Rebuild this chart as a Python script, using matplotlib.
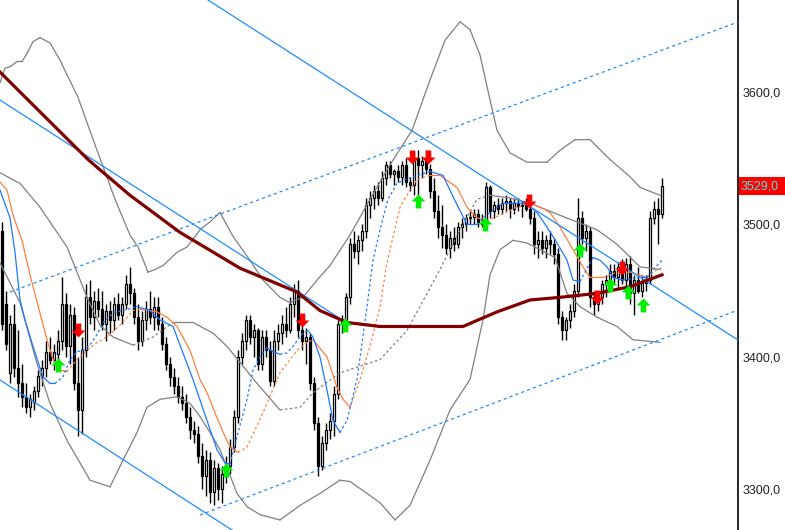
import matplotlib
matplotlib.use("Agg")
import matplotlib.pyplot as plt
from matplotlib.path import Path
from matplotlib.patches import Rectangle

# --- candles (bar index 0..165), prices ---
opens = [3495, 3440, 3388, 3425, 3392, 3380, 3370, 3362, 3366, 3374, 3386, 3392, 3404, 3398, 3402, 3412,
         3440, 3408, 3432, 3380, 3360, 3405, 3445, 3430, 3442, 3436, 3425, 3435, 3428, 3440, 3432, 3440,
         3455, 3448, 3430, 3412, 3428, 3436, 3430, 3438, 3425, 3410, 3395, 3385, 3378, 3370, 3365, 3355,
         3345, 3342, 3325, 3310, 3322, 3298, 3316, 3300, 3312, 3318, 3332, 3355, 3400, 3412, 3428, 3415,
         3420, 3395, 3415, 3405, 3382, 3412, 3418, 3425, 3420, 3440, 3450, 3420, 3412, 3415, 3380, 3350,
         3318, 3335, 3345, 3352, 3372, 3425, 3428, 3445, 3485, 3480, 3488, 3495, 3515, 3520, 3525, 3520,
         3535, 3545, 3538, 3540, 3536, 3545, 3532, 3530, 3550, 3545, 3548, 3542, 3525, 3510, 3498, 3492,
         3482, 3490, 3485, 3498, 3500, 3505, 3506, 3508, 3502, 3500, 3528, 3510, 3515, 3512, 3516, 3518,
         3512, 3516, 3514, 3515, 3512, 3505, 3485, 3488, 3482, 3488, 3485, 3478, 3430, 3420, 3428, 3435,
         3450, 3505, 3490, 3495, 3445, 3440, 3445, 3455, 3458, 3465, 3460, 3468, 3458, 3470, 3448, 3458,
         3450, 3456, 3458, 3505, 3512, 3508]
highs = [3502, 3450, 3432, 3440, 3420, 3395, 3380, 3372, 3378, 3390, 3398, 3412, 3415, 3410, 3420, 3460,
         3448, 3440, 3438, 3400, 3415, 3455, 3458, 3450, 3452, 3450, 3440, 3442, 3445, 3448, 3445, 3462,
         3468, 3452, 3440, 3435, 3442, 3450, 3445, 3445, 3430, 3415, 3400, 3392, 3385, 3378, 3372, 3362,
         3352, 3348, 3335, 3330, 3328, 3322, 3320, 3318, 3325, 3338, 3360, 3405, 3418, 3432, 3432, 3425,
         3422, 3420, 3420, 3412, 3420, 3425, 3432, 3438, 3445, 3455, 3458, 3430, 3422, 3418, 3385, 3355,
         3340, 3350, 3358, 3378, 3428, 3432, 3448, 3490, 3495, 3492, 3500, 3520, 3525, 3530, 3532, 3540,
         3548, 3548, 3542, 3545, 3548, 3550, 3536, 3555, 3556, 3552, 3556, 3546, 3535, 3522, 3515, 3500,
         3495, 3498, 3502, 3505, 3508, 3510, 3512, 3512, 3508, 3532, 3530, 3518, 3520, 3520, 3522, 3520,
         3520, 3520, 3518, 3520, 3515, 3510, 3495, 3495, 3492, 3495, 3490, 3482, 3435, 3430, 3440, 3455,
         3520, 3510, 3500, 3498, 3450, 3448, 3458, 3462, 3470, 3470, 3472, 3474, 3475, 3476, 3462, 3468,
         3462, 3462, 3510, 3518, 3520, 3535]
lows = [3420, 3405, 3380, 3385, 3370, 3362, 3358, 3355, 3360, 3370, 3378, 3385, 3395, 3390, 3398, 3405,
        3400, 3395, 3375, 3340, 3342, 3400, 3425, 3420, 3430, 3420, 3412, 3418, 3420, 3428, 3425, 3436,
        3440, 3425, 3405, 3408, 3420, 3425, 3420, 3420, 3405, 3390, 3378, 3372, 3365, 3360, 3350, 3338,
        3335, 3320, 3300, 3295, 3290, 3288, 3292, 3290, 3305, 3312, 3328, 3350, 3395, 3405, 3410, 3400,
        3390, 3390, 3400, 3378, 3378, 3405, 3410, 3415, 3418, 3430, 3415, 3405, 3395, 3375, 3345, 3310,
        3315, 3330, 3338, 3340, 3368, 3418, 3420, 3440, 3475, 3470, 3480, 3490, 3505, 3512, 3515, 3518,
        3530, 3535, 3530, 3532, 3530, 3528, 3525, 3522, 3520, 3535, 3538, 3520, 3505, 3490, 3482, 3478,
        3475, 3480, 3482, 3490, 3495, 3500, 3500, 3498, 3498, 3498, 3505, 3505, 3508, 3508, 3510, 3505,
        3508, 3510, 3506, 3510, 3500, 3478, 3475, 3478, 3475, 3478, 3470, 3425, 3413, 3413, 3422, 3430,
        3445, 3485, 3480, 3438, 3432, 3435, 3440, 3445, 3450, 3455, 3452, 3455, 3445, 3440, 3432, 3448,
        3445, 3450, 3455, 3500, 3485, 3505]
closes = [3425, 3410, 3425, 3392, 3380, 3370, 3362, 3368, 3374, 3386, 3392, 3404, 3398, 3404, 3412, 3440,
          3408, 3432, 3380, 3360, 3405, 3445, 3430, 3442, 3436, 3425, 3435, 3428, 3440, 3432, 3440, 3455,
          3448, 3430, 3412, 3428, 3436, 3430, 3438, 3425, 3410, 3395, 3385, 3378, 3370, 3365, 3355, 3345,
          3342, 3325, 3310, 3322, 3298, 3316, 3300, 3312, 3318, 3332, 3355, 3400, 3412, 3428, 3415, 3420,
          3395, 3415, 3405, 3382, 3412, 3418, 3425, 3420, 3440, 3450, 3420, 3412, 3415, 3380, 3350, 3318,
          3335, 3345, 3352, 3372, 3425, 3428, 3445, 3485, 3480, 3488, 3495, 3515, 3520, 3525, 3520, 3535,
          3545, 3538, 3540, 3536, 3545, 3532, 3530, 3550, 3545, 3548, 3542, 3525, 3510, 3498, 3492, 3482,
          3490, 3485, 3498, 3500, 3505, 3506, 3508, 3502, 3500, 3528, 3510, 3515, 3512, 3516, 3518, 3512,
          3516, 3514, 3515, 3512, 3505, 3485, 3488, 3482, 3488, 3485, 3478, 3430, 3420, 3428, 3435, 3450,
          3505, 3490, 3495, 3445, 3440, 3445, 3455, 3458, 3465, 3460, 3468, 3458, 3470, 3448, 3458, 3450,
          3456, 3458, 3505, 3512, 3508, 3529]

# --- indicator lines (bar index, price) ---
slow_x = [-0.5, 10.5, 21.5, 32, 44.5, 59.5, 73.75, 79.5, 86.25, 94.5, 104.5, 115.25, 123.75, 132, 139.5,
          148.75, 157, 165]
slow_y = [3615, 3582, 3549, 3522, 3494, 3467, 3449, 3435, 3426, 3423, 3423, 3423, 3434, 3443, 3445,
          3448, 3453, 3462]

fast_x = [-0.5, 2, 3.25, 4.5, 5.75, 7.75, 10.25, 12, 13.25, 15.25, 17, 18.75, 20.25, 22, 23.75, 25.75,
          28.25, 30.25, 33.75, 37, 39.5, 42.75, 45.25, 47.75, 51.25, 53.75, 55.75, 57, 58.75, 61.25,
          62.75, 64.5, 66.25, 67.75, 69.5, 71.25, 72.75, 75.25, 76.5, 77.75, 79.5, 81.25, 82.75, 84.5,
          86.25, 88.75, 91.25, 92.75, 94.5, 96.5, 98.75, 100.75, 107, 110.25, 112.75, 115.25, 116.25,
          118.75, 120.25, 122.75, 125.25, 129.5, 131.5, 133.75, 136.25, 138.75, 141.25, 142.75, 144.5,
          146.25, 147.75, 149.5, 151.25, 152.75, 155.25, 158.75, 161.25, 162.75, 165]
fast_y = [3526, 3505, 3479, 3443, 3428, 3408, 3385, 3380, 3380, 3385, 3398, 3404, 3405, 3409, 3417, 3428,
          3434, 3435, 3438, 3435, 3428, 3423, 3403, 3383, 3352, 3330, 3320, 3319, 3340, 3368,
          3390, 3400, 3407, 3404, 3402, 3403, 3408, 3418, 3420, 3415, 3400, 3375, 3352, 3343,
          3352, 3383, 3438, 3473, 3496, 3519, 3531, 3534, 3540, 3537, 3521, 3506, 3500,
          3500, 3505, 3511, 3516, 3516, 3515, 3509, 3498, 3486, 3473, 3458, 3457,
          3467, 3475, 3473, 3468, 3460, 3458, 3460, 3460, 3466, 3473]

mid_x = [-0.5, 1.25, 2.75, 5, 7, 9.5, 11.25, 12.75, 14.5, 16.25, 18.75, 21.25, 23.75, 26.25, 29.5, 32.75,
         34.5, 37, 38.75, 41.25, 43.75, 47, 49.5, 51.25, 53.75, 55.75, 57, 59, 61.25, 65.25, 69.5, 73.75,
         76.25, 77.75, 81.25, 83.75, 85.25, 87, 89.5, 92, 94.5, 96.25, 99.5, 102, 103.75, 107, 109.5,
         113.75, 116.25, 118.75, 121.25, 123.75, 128.75, 132, 135.25, 137, 139.5, 142.75, 145.25, 147,
         150.25, 152.75, 157, 161.25, 163.75, 165]
mid_y = [3532, 3526, 3507, 3488, 3462, 3433, 3413, 3398, 3390, 3389, 3398, 3405, 3411, 3415, 3424, 3435,
         3436, 3435, 3434, 3430, 3423, 3405, 3383, 3373, 3354, 3340, 3332, 3328, 3332, 3358, 3388, 3405,
         3411, 3413, 3400, 3377, 3368, 3362, 3383, 3408, 3438, 3471, 3513, 3526, 3534, 3537, 3537,
         3528, 3513, 3505, 3503, 3506, 3513, 3516, 3512, 3509, 3498, 3481, 3468, 3460,
         3460, 3463, 3464, 3460, 3466, 3467]

bb_up_x = [-0.5, 0.75, 2, 3.75, 5, 6.25, 7.75, 9.5, 12, 14.5, 16.25, 19, 21.25, 23.75, 24.5, 28.25, 32,
           34, 36.5, 38.25, 40.25, 43.75, 46.25, 49.5, 52, 54.5, 57.75, 62, 65.25, 69.5, 72, 75.25, 78.75,
           82, 87, 92, 97, 102.5, 107, 110.75, 114.5, 117, 119.5, 122, 123.75, 127, 131.25, 136.25,
           139.5, 143.25, 147, 152, 157, 159.5, 164.5]
bb_up_y = [3607, 3618, 3619, 3623, 3623, 3629, 3638, 3641, 3637, 3624, 3613, 3596, 3577, 3556, 3550, 3519,
           3492, 3483, 3464, 3466, 3469, 3479, 3483, 3496, 3502, 3509, 3491, 3473, 3458, 3445, 3441, 3445,
           3458, 3469, 3492, 3519, 3545, 3571, 3609, 3639, 3653, 3647, 3628, 3594, 3571, 3554, 3547,
           3547, 3556, 3564, 3564, 3549, 3536, 3528, 3522]

bb_mid_x = [-0.5, 4.5, 9.5, 16.25, 21.25, 24.5, 27.75, 32.75, 37.75, 42.75, 47.75, 52.75, 56.25, 63.75,
            69.5, 74.5, 77.75, 84.5, 94.5, 101.25, 109.5, 114.5, 118.75, 122, 127, 132, 140.25, 148.75,
            153.75, 159.5, 164.5]
bb_mid_y = [3539, 3531, 3513, 3483, 3445, 3424, 3415, 3409, 3415, 3426, 3426, 3418, 3408, 3380,
            3360, 3362, 3373, 3388, 3398, 3420, 3466, 3496, 3519, 3522, 3520, 3516, 3506, 3496,
            3485, 3468, 3466]

bb_low_x = [-0.5, 4.5, 8.75, 12, 16.25, 22, 27, 30.25, 33.75, 36.25, 39.5, 43.75, 47, 49.5, 52, 54.5,
            58.75, 61.25, 64.5, 69.5, 74.5, 79.5, 84.5, 87, 91.25, 94.5, 98.25, 102, 107, 112, 117,
            120.25, 122, 124.5, 127.75, 131.25, 134.5, 138.25, 141.25, 144.5, 148.75, 153.75, 157.75,
            164.5]
bb_low_y = [3471, 3441, 3395, 3365, 3337, 3307, 3302, 3322, 3343, 3362, 3368, 3370, 3365, 3355, 3343, 3330,
            3297, 3287, 3281, 3277, 3288, 3297, 3307, 3306, 3297, 3290, 3277, 3288, 3322, 3360, 3383,
            3428, 3462, 3481, 3488, 3486, 3481, 3475, 3448, 3438, 3430, 3423, 3413,
            3411]

# trend / channel lines: (x0, y0, x1, y1)
trend_solid = [(51.5, 3669.4, 184, 3412.8),
               (-0.5, 3593.9, 86.25, 3425.6),
               (-0.5, 3382.6, 58.25, 3267.9)]
trend_dashed = [(2, 3449.0, 184, 3652.8),
                (49.5, 3280.7, 184, 3435.4)]

# signal arrows
sell_x = [19, 75, 102.5, 106.5, 131.75, 148.75, 155]
sell_y = [3420, 3428, 3551, 3551, 3518, 3445, 3467]
buy_x = [14, 56, 85.75, 104, 120.75, 144.5, 152, 156.5, 160.25]
buy_y = [3394, 3315, 3424, 3518, 3500, 3481, 3454, 3449, 3439]

last_price = 3529.0
ticks = [3300, 3400, 3500, 3600]

fig = plt.figure(figsize=(7.85, 5.3), dpi=100)
ax = fig.add_axes([0, 0, 738 / 785, 1])
ax.set_xlim(-0.5, 184)
ax.set_ylim(3269.4, 3669.4)

# candles
for i in range(len(closes)):
    o, h, l, c = opens[i], highs[i], lows[i], closes[i]
    ax.vlines(i, l, h, color="black", lw=1, zorder=2)
    up = c >= o
    ax.bar(i, max(abs(c - o), 0.6), bottom=min(o, c), width=0.62,
           color="white" if up else "black", edgecolor="black", lw=0.9, zorder=2)


def draw_ma(xs, ys, color, lw, dash_up=True):
    # solid while falling, dotted while rising
    run_x, run_y = [xs[0]], [ys[0]]
    rising = ys[1] > ys[0]
    for k in range(1, len(xs)):
        r = ys[k] > ys[k - 1]
        if r != rising:
            ax.plot(run_x, run_y, color=color, lw=lw, zorder=3,
                    ls=(0, (2, 2)) if (rising and dash_up) else "-")
            run_x, run_y = [xs[k - 1]], [ys[k - 1]]
            rising = r
        run_x.append(xs[k])
        run_y.append(ys[k])
    ax.plot(run_x, run_y, color=color, lw=lw, zorder=3,
            ls=(0, (2, 2)) if (rising and dash_up) else "-")


draw_ma(bb_up_x, bb_up_y, "#808080", 0.9, dash_up=False)
draw_ma(bb_low_x, bb_low_y, "#808080", 0.9, dash_up=False)
draw_ma(bb_mid_x, bb_mid_y, "#808080", 0.9)
draw_ma(mid_x, mid_y, "#ff7f3f", 0.9)
draw_ma(fast_x, fast_y, "#1e78ff", 0.9)
ax.plot(slow_x, slow_y, color="#800000", lw=2.3, zorder=4)

for x0, y0, x1, y1 in trend_solid:
    ax.plot([x0, x1], [y0, y1], color="#1e8cff", lw=0.9, zorder=3)
for x0, y0, x1, y1 in trend_dashed:
    ax.plot([x0, x1], [y0, y1], color="#1e8cff", lw=0.9, ls=(0, (2.5, 2.5)), zorder=3)

# arrow markers
down_arrow = Path([(-0.2, 0.5), (0.2, 0.5), (0.2, 0.0), (0.5, 0.0), (0.0, -0.5),
                   (-0.5, 0.0), (-0.2, 0.0), (-0.2, 0.5)], closed=True)
up_arrow = Path([(-0.2, -0.5), (0.2, -0.5), (0.2, 0.0), (0.5, 0.0), (0.0, 0.5),
                 (-0.5, 0.0), (-0.2, 0.0), (-0.2, -0.5)], closed=True)
ax.plot(sell_x, sell_y, ls="none", marker=down_arrow, ms=10, color="#ff0000", mec="none", zorder=6)
ax.plot(buy_x, buy_y, ls="none", marker=up_arrow, ms=10, color="#00ee00", mec="none", zorder=6)

# axis styling
for s in ["top", "left", "bottom"]:
    ax.spines[s].set_visible(False)
ax.spines["right"].set_color("black")
ax.spines["right"].set_linewidth(1.2)
ax.set_xticks([])
ax.yaxis.tick_right()
ax.set_yticks(ticks)
ax.set_yticklabels([f"{t:.1f}".replace(".", ",") for t in ticks],
                   fontsize=9, color="#222222", family="Liberation Sans")
ax.tick_params(axis="y", length=0, pad=3)

# last price tag on the axis
trans = ax.get_yaxis_transform()
ax.add_patch(Rectangle((1.001, last_price - 6.8), 785 / 738 - 1.0, 13.6, transform=trans,
                       facecolor="#ff0000", edgecolor="none", clip_on=False, zorder=7))
ax.text(1.004, last_price, f"{last_price:.1f}".replace(".", ","),
        transform=trans, ha="left", va="center", fontsize=9, color="#40e8e0",
        family="Liberation Sans", clip_on=False, zorder=8)

fig.savefig("out.png", dpi=100)
